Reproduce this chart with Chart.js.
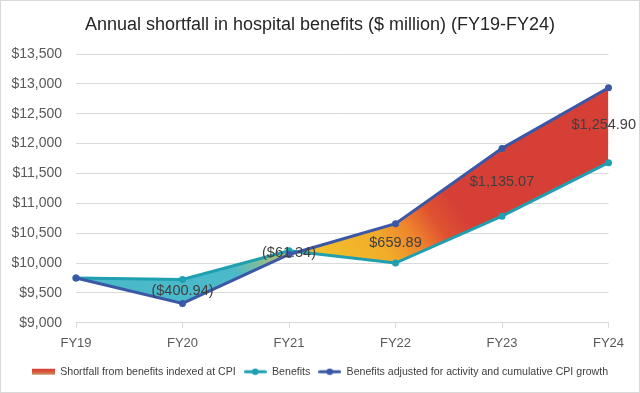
<!DOCTYPE html>
<html>
<head>
<meta charset="utf-8">
<script src="https://cdn.jsdelivr.net/npm/chart.js@4.4.1/dist/chart.umd.min.js"></script>
<style>
html,body{margin:0;padding:0;background:#fff;}
canvas{display:block;}
</style>
</head>
<body>
<canvas id="c" width="640" height="393"></canvas>
<script>
const categories = ['FY19', 'FY20', 'FY21', 'FY22', 'FY23', 'FY24'];
const benefits = [9750, 9725, 10205, 10000, 10785, 11680];
const adjusted = [9750, 9324, 10144, 10660, 11920, 12935];
const shortfall = [null, -400.94, -61.34, 659.89, 1135.07, 1254.90];
const yTickValues = [9000, 9500, 10000, 10500, 11000, 11500, 12000, 12500, 13000, 13500];

const TEAL = '#1f9fb0';
const BLUE = '#3a58a6';
const FONT = "'Liberation Sans', Arial, sans-serif";

function money(v) {
  return '$' + Math.abs(v).toLocaleString('en-US', {minimumFractionDigits: 2, maximumFractionDigits: 2});
}

function legendImg(kind, color) {
  const c = document.createElement('canvas');
  c.width = 23; c.height = 8;
  const g = c.getContext('2d');
  if (kind === 'box') {
    const gr = g.createLinearGradient(0, 1, 0, 7);
    gr.addColorStop(0, '#d63f36');
    gr.addColorStop(0.5, '#d9553a');
    gr.addColorStop(1, '#c99a6a');
    g.fillStyle = gr;
    g.fillRect(0, 1, 23, 6);
  } else {
    g.strokeStyle = color; g.lineWidth = 3; g.lineCap = 'round';
    g.beginPath(); g.moveTo(1.5, 4); g.lineTo(21.5, 4); g.stroke();
    g.fillStyle = color;
    g.beginPath(); g.arc(11.5, 4, 3.3, 0, Math.PI * 2); g.fill();
  }
  return c;
}

const bgPlugin = {
  id: 'bg',
  beforeDraw(chart) {
    const ctx = chart.ctx;
    ctx.save();
    ctx.fillStyle = '#fff';
    ctx.fillRect(0, 0, chart.width, chart.height);
    ctx.strokeStyle = '#d9d9d9';
    ctx.lineWidth = 1;
    ctx.strokeRect(0.5, 0.5, chart.width - 1, chart.height - 1);
    ctx.restore();
  }
};

const labelPlugin = {
  id: 'gapLabels',
  afterDatasetsDraw(chart) {
    const ctx = chart.ctx;
    const xs = chart.scales.x, ys = chart.scales.y;
    ctx.save();
    ctx.font = "14.5px " + FONT;
    ctx.fillStyle = '#404040';
    ctx.textAlign = 'center';
    ctx.textBaseline = 'middle';
    for (let i = 0; i < categories.length; i++) {
      if (shortfall[i] === null) continue;
      const txt = shortfall[i] < 0 ? '(' + money(shortfall[i]) + ')' : money(shortfall[i]);
      const w = ctx.measureText(txt).width;
      let x = xs.getPixelForValue(i);
      x = Math.min(x, chart.width - 4 - w / 2);
      const y = ys.getPixelForValue((benefits[i] + adjusted[i]) / 2);
      ctx.fillText(txt, x, y);
    }
    ctx.restore();
  }
};

function gapGradient(context) {
  const chart = context.chart;
  const {ctx, chartArea, scales} = chart;
  if (!chartArea) return 'rgba(214,63,54,0.9)';
  const x0 = scales.x.getPixelForValue(1.65), y0 = scales.y.getPixelForValue(9400);
  const x1 = scales.x.getPixelForValue(3.7), y1 = scales.y.getPixelForValue(11900);
  const g = ctx.createLinearGradient(x0, y0, x1, y1);
  g.addColorStop(0, '#4ab9ca');
  g.addColorStop(0.1, '#80bd9c');
  g.addColorStop(0.22, '#c8bf4c');
  g.addColorStop(0.32, '#f1bf2c');
  g.addColorStop(0.52, '#f2ac2a');
  g.addColorStop(0.64, '#ee842d');
  g.addColorStop(0.74, '#df5231');
  g.addColorStop(0.84, '#d63f36');
  g.addColorStop(1, '#d63f36');
  return g;
}

new Chart(document.getElementById('c'), {
  type: 'line',
  data: {
    labels: categories,
    datasets: [
      {
        label: 'Shortfall from benefits indexed at CPI',
        data: adjusted,
        borderWidth: 0,
        pointRadius: 0,
        fill: '+1',
        backgroundColor: gapGradient,
        borderColor: 'rgba(0,0,0,0)',
        order: 3
      },
      {
        label: 'Benefits',
        data: benefits,
        borderColor: TEAL,
        backgroundColor: TEAL,
        borderWidth: 3,
        pointRadius: 3.5,
        pointBackgroundColor: TEAL,
        pointBorderWidth: 0,
        fill: false,
        order: 1
      },
      {
        label: 'Benefits adjusted for activity and cumulative CPI growth',
        data: adjusted,
        borderColor: BLUE,
        backgroundColor: BLUE,
        borderWidth: 3,
        pointRadius: 3.5,
        pointBackgroundColor: BLUE,
        pointBorderWidth: 0,
        fill: false,
        order: 0
      }
    ]
  },
  options: {
    responsive: false,
    devicePixelRatio: 1,
    animation: false,
    events: [],
    layout: {padding: {left: 0, right: 0, top: 0, bottom: 6}},
    scales: {
      x: {
        offset: false,
        grid: {display: true, drawOnChartArea: false, drawTicks: true, tickLength: 5, color: '#d9d9d9'},
        border: {display: true, color: '#d9d9d9'},
        ticks: {color: '#595959', font: {family: FONT, size: 13}, padding: 7.5, maxRotation: 0}
      },
      y: {
        min: 9000,
        max: 13500,
        afterBuildTicks(scale) { scale.ticks = yTickValues.map(v => ({value: v})); },
        afterFit(scale) { scale.width = 76; },
        grid: {color: '#d9d9d9', drawTicks: false},
        border: {display: false},
        ticks: {
          color: '#595959',
          font: {family: FONT, size: 14},
          padding: 14,
          callback: v => '$' + Number(v).toLocaleString('en-US')
        }
      },
      yRight: {
        position: 'right',
        display: true,
        afterFit(scale) { scale.width = 31.5; },
        grid: {drawOnChartArea: false, drawTicks: false},
        border: {display: false},
        ticks: {display: false}
      }
    },
    plugins: {
      title: {
        display: true,
        text: 'Annual shortfall in hospital benefits ($ million) (FY19-FY24)',
        color: '#262626',
        font: {family: FONT, size: 18, weight: 'normal'},
        padding: {top: 14, bottom: 18.4}
      },
      legend: {
        position: 'bottom',
        labels: {
          color: '#404040',
          font: {family: FONT, size: 10.6},
          usePointStyle: true,
          pointStyleWidth: 23,
          padding: 8,
          generateLabels() {
            return [
              {text: 'Shortfall from benefits indexed at CPI', pointStyle: legendImg('box'), fillStyle: '#d63f36', strokeStyle: '#d63f36', lineWidth: 0, datasetIndex: 0, fontColor: '#404040'},
              {text: 'Benefits', pointStyle: legendImg('line', TEAL), fillStyle: TEAL, strokeStyle: TEAL, lineWidth: 0, datasetIndex: 1, fontColor: '#404040'},
              {text: 'Benefits adjusted for activity and cumulative CPI growth', pointStyle: legendImg('line', BLUE), fillStyle: BLUE, strokeStyle: BLUE, lineWidth: 0, datasetIndex: 2, fontColor: '#404040'}
            ];
          }
        }
      },
      tooltip: {enabled: false}
    }
  },
  plugins: [bgPlugin, labelPlugin]
});
</script>
</body>
</html>
